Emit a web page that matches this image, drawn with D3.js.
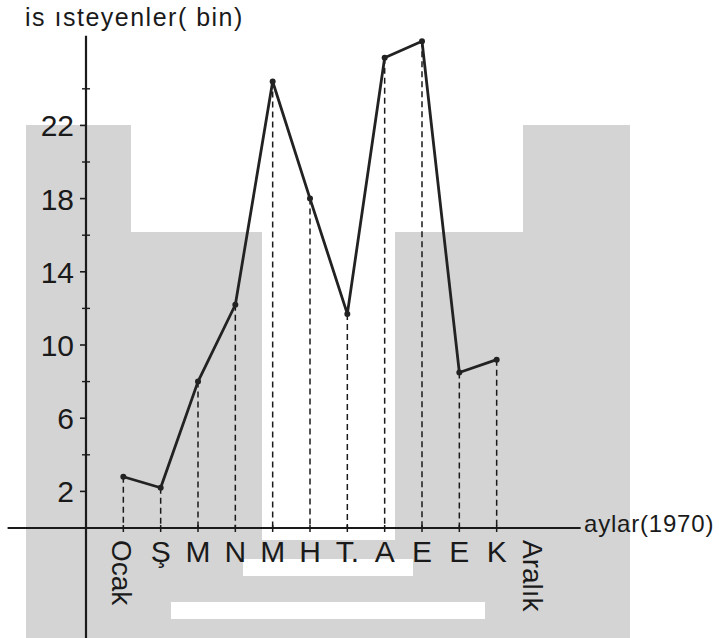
<!DOCTYPE html>
<html>
<head>
<meta charset="utf-8">
<script src="https://cdn.jsdelivr.net/npm/d3@7"></script>
<style>
  body { margin: 0; background: #fff; }
  text { font-family: "Liberation Sans", Arial, sans-serif; fill: #1a1a1a; }
</style>
</head>
<body>
<script>
const w = 719;
const h = 638;

// months (1970) and job seekers in thousands
const months = ["Ocak", "Ş", "M", "N", "M", "H", "T.", "A", "E", "E", "K", "Aralık"];
const values = [2.8, 2.2, 8.0, 12.2, 24.4, 18.0, 11.7, 25.7, 26.6, 8.5, 9.2];
const yLabels = [2, 6, 10, 14, 18, 22];
const yMinor = [4, 8, 12, 16, 20, 24];

const svg = d3.select("body")
              .append("svg")
              .attr("width", w)
              .attr("height", h);

// grey page silhouette behind the chart
const grey = "#d4d4d4";
svg.append("path")
   .attr("d", "M26,638 L26,125 L131,125 L131,232 L262,232 L262,540 L395,540 L395,232 L523,232 L523,125 L630,125 L630,638 Z")
   .attr("fill", grey);
svg.append("rect").attr("x", 243).attr("y", 559).attr("width", 170).attr("height", 17).attr("fill", "#fff");
svg.append("rect").attr("x", 171).attr("y", 602).attr("width", 314).attr("height", 17).attr("fill", "#fff");

const xScale = d3.scaleLinear()
                 .domain([0, 12])
                 .range([86, 534]);

const yScale = d3.scaleLinear()
                 .domain([0, 24])
                 .range([528, 88.8]);

const ink = "#1a1a1a";

// axes lines
svg.append("line")
   .attr("x1", xScale(-2.1)).attr("x2", xScale(13.25))
   .attr("y1", yScale(0)).attr("y2", yScale(0))
   .attr("stroke", ink).attr("stroke-width", 2.2);
svg.append("line")
   .attr("x1", xScale(0)).attr("x2", xScale(0))
   .attr("y1", yScale(26.9)).attr("y2", h)
   .attr("stroke", ink).attr("stroke-width", 2.2);

// y ticks
svg.selectAll(".ymajor")
   .data(yLabels)
   .enter()
   .append("line")
   .attr("x1", xScale(0) - 6).attr("x2", xScale(0))
   .attr("y1", d => yScale(d)).attr("y2", d => yScale(d))
   .attr("stroke", ink).attr("stroke-width", 1.6);

svg.selectAll(".yminor")
   .data(yMinor)
   .enter()
   .append("line")
   .attr("x1", xScale(0) - 4).attr("x2", xScale(0) + 4)
   .attr("y1", d => yScale(d)).attr("y2", d => yScale(d))
   .attr("stroke", ink).attr("stroke-width", 1.4);

svg.selectAll(".ylab")
   .data(yLabels)
   .enter()
   .append("text")
   .attr("x", xScale(0) - 12)
   .attr("y", d => yScale(d) + 11)
   .attr("text-anchor", "end")
   .attr("font-size", 30)
   .text(d => d);

// dashed drop lines
svg.selectAll(".drop")
   .data(values)
   .enter()
   .append("line")
   .attr("x1", (d, i) => xScale(i + 1)).attr("x2", (d, i) => xScale(i + 1))
   .attr("y1", d => yScale(d)).attr("y2", yScale(0))
   .attr("stroke", ink).attr("stroke-width", 1.5)
   .attr("stroke-dasharray", "6,4");

// x ticks
svg.selectAll(".xtick")
   .data(values)
   .enter()
   .append("line")
   .attr("x1", (d, i) => xScale(i + 1)).attr("x2", (d, i) => xScale(i + 1))
   .attr("y1", yScale(0) - 3).attr("y2", yScale(0) + 4)
   .attr("stroke", ink).attr("stroke-width", 1.5);

// the line
const line = d3.line()
               .x((d, i) => xScale(i + 1))
               .y(d => yScale(d));

svg.append("path")
   .datum(values)
   .attr("d", line)
   .attr("fill", "none")
   .attr("stroke", "#222")
   .attr("stroke-width", 2.8)
   .attr("stroke-linejoin", "round");

svg.selectAll(".dot")
   .data(values)
   .enter()
   .append("circle")
   .attr("cx", (d, i) => xScale(i + 1))
   .attr("cy", d => yScale(d))
   .attr("r", 3)
   .attr("fill", "#222");

// month labels, first and last written downwards
const side = i => i === 0 || i === months.length - 1;
svg.selectAll(".mlab")
   .data(months)
   .enter()
   .append("text")
   .attr("transform", (d, i) => {
       const x = xScale(i + 1);
       if (side(i)) return "translate(" + (x - 11) + "," + 540 + ") rotate(90)";
       return "translate(" + x + "," + 562 + ")";
   })
   .attr("text-anchor", (d, i) => side(i) ? "start" : "middle")
   .attr("font-size", (d, i) => side(i) ? 28 : 30)
   .text(d => d);

// axis titles
svg.append("text")
   .attr("x", 25).attr("y", 26)
   .attr("font-size", 25)
   .attr("letter-spacing", 1.5)
   .text("is ısteyenler( bin)");

svg.append("text")
   .attr("x", 584).attr("y", 532)
   .attr("font-size", 24)
   .attr("letter-spacing", 0.8)
   .text("aylar(1970)");
</script>
</body>
</html>
